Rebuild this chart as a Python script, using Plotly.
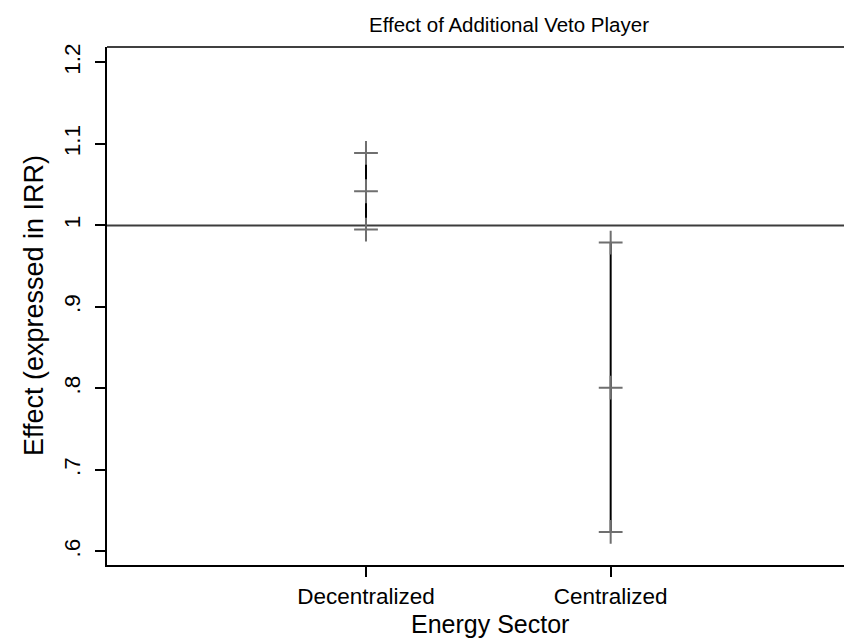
import plotly.graph_objects as go

categories = ["Decentralized", "Centralized"]
cat_pos = [1, 2]
irr = [1.042, 0.801]
ci_low = [0.995, 0.624]
ci_high = [1.089, 0.979]
ytick_vals = [0.6, 0.7, 0.8, 0.9, 1.0, 1.1, 1.2]
ytick_text = [".6", ".7", ".8", ".9", "1", "1.1", "1.2"]

FONT = "Liberation Sans, Arial, sans-serif"

fig = go.Figure()

# reference line at 1
fig.add_hline(y=1, line=dict(color="#3c3c3c", width=2), layer="below")

# CI spikes
for xp, lo, hi in zip(cat_pos, ci_low, ci_high):
    fig.add_trace(go.Scatter(x=[xp, xp], y=[lo, hi], mode="lines",
                             line=dict(color="black", width=2), showlegend=False,
                             hoverinfo="skip"))

# markers
mx = cat_pos * 3
my = ci_low + irr + ci_high
fig.add_trace(go.Scatter(x=mx, y=my, mode="markers",
                         marker=dict(symbol="cross-thin", size=17,
                                     line=dict(color="#6f6f6f", width=2)),
                         showlegend=False))

fig.update_layout(
    width=852, height=640,
    margin=dict(l=99, r=0, t=39, b=83),
    paper_bgcolor="white", plot_bgcolor="white",
    font=dict(family=FONT, color="black"),
    title=dict(text="Effect of Additional Veto Player", x=501 / 852, xanchor="center",
               xref="container", y=1 - 17 / 640, yanchor="middle", yref="container",
               font=dict(family=FONT, size=20.5, color="black")),
    showlegend=False,
)

fig.update_xaxes(
    range=[-0.0585, 3.019], tickmode="array", tickvals=cat_pos, ticktext=categories,
    showgrid=False, zeroline=False, showline=True, linecolor="black", linewidth=1.5,
    ticks="outside", ticklen=10, tickwidth=1.5, tickcolor="black",
    tickfont=dict(size=22.5),
)
fig.update_yaxes(
    range=[0.5834, 1.219], tickmode="array", tickvals=ytick_vals, ticktext=ytick_text,
    tickangle=-90, showgrid=False, zeroline=False, showline=True, linecolor="black",
    linewidth=1.5, ticks="outside", ticklen=10, tickwidth=1.5, tickcolor="black",
    tickfont=dict(size=22.5), ticklabelstandoff=6,
)

# axis titles
fig.add_annotation(text="Energy Sector", xref="paper", yref="paper",
                   x=(482 - 99) / 753, y=(557 - 616) / 518, xanchor="center", yanchor="middle",
                   showarrow=False, font=dict(size=25, family=FONT, color="black"))
fig.add_annotation(text="Effect (expressed in IRR)", xref="paper", yref="paper",
                   x=(26 - 99) / 753, y=0.5, xanchor="center", yanchor="middle",
                   textangle=-90, showarrow=False,
                   font=dict(size=27, family=FONT, color="black"))

# top border line
fig.add_shape(type="line", xref="paper", yref="paper", x0=0, x1=1, y0=1, y1=1,
              line=dict(color="black", width=1.5))

fig.write_html("out.html")
